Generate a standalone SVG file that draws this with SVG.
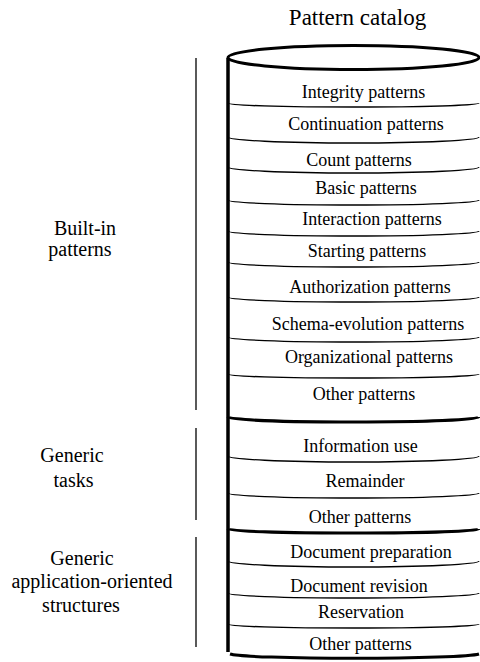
<svg xmlns="http://www.w3.org/2000/svg" width="480" height="662" viewBox="0 0 480 662">
<style>
text{font-family:"Liberation Serif","Times New Roman",serif;fill:#000}
.item{font-size:18px;text-anchor:middle}
.lab{font-size:20px;text-anchor:middle}
.title{font-size:23px;text-anchor:middle}
.thin{fill:none;stroke:#000;stroke-width:1.3}
.thick{fill:none;stroke:#000;stroke-width:3}
.edge{fill:none;stroke:#000;stroke-width:3.5}
.br{fill:none;stroke:#000;stroke-width:1.3}
</style>
<rect width="480" height="662" fill="#fff"/>
<g id="title"><text class="title" x="357.5" y="25">Pattern catalog</text></g>
<g id="catalog">
<ellipse class="thick" cx="353.5" cy="57.5" rx="125.5" ry="12"/>
<path class="edge" d="M228,58 L228,652"/>
<path class="thin" d="M228,103 A125.5,4 0 0 0 479,103"/>
<path class="thin" d="M228,137 A125.5,6 0 0 0 479,137"/>
<path class="thin" d="M228,167 A125.5,6 0 0 0 479,167"/>
<path class="thin" d="M228,200 A125.5,5 0 0 0 479,200"/>
<path class="thin" d="M228,231 A125.5,5 0 0 0 479,231"/>
<path class="thin" d="M228,262 A125.5,5 0 0 0 479,262"/>
<path class="thin" d="M228,297 A125.5,5 0 0 0 479,297"/>
<path class="thin" d="M228,337 A125.5,5 0 0 0 479,337"/>
<path class="thin" d="M228,374 A125.5,4 0 0 0 479,374"/>
<path class="thick" d="M228,417 A125.5,5 0 0 0 479,417"/>
<path class="thin" d="M228,456 A125.5,6 0 0 0 479,456"/>
<path class="thin" d="M228,493 A125.5,5 0 0 0 479,493"/>
<path class="thick" d="M228,529 A125.5,4 0 0 0 479,529"/>
<path class="thin" d="M228,561 A125.5,6 0 0 0 479,561"/>
<path class="thin" d="M228,593 A125.5,5 0 0 0 479,593"/>
<path class="thin" d="M228,624 A125.5,4 0 0 0 479,624"/>
<path class="thick" d="M230,654 A125.5,5 0 0 0 479,654"/>
</g>
<g id="layer-integrity"><text class="item" x="363.5" y="98">Integrity patterns</text></g>
<g id="layer-continuation"><text class="item" x="366" y="130">Continuation patterns</text></g>
<g id="layer-count"><text class="item" x="359" y="166">Count patterns</text></g>
<g id="layer-basic"><text class="item" x="366" y="194">Basic patterns</text></g>
<g id="layer-interaction"><text class="item" x="372" y="225">Interaction patterns</text></g>
<g id="layer-starting"><text class="item" x="367" y="257">Starting patterns</text></g>
<g id="layer-authorization"><text class="item" x="370" y="293">Authorization patterns</text></g>
<g id="layer-schema"><text class="item" x="368" y="330">Schema-evolution patterns</text></g>
<g id="layer-organizational"><text class="item" x="369" y="363">Organizational patterns</text></g>
<g id="layer-other1"><text class="item" x="364" y="400">Other patterns</text></g>
<g id="layer-information"><text class="item" x="360.5" y="452">Information use</text></g>
<g id="layer-remainder"><text class="item" x="365" y="487">Remainder</text></g>
<g id="layer-other2"><text class="item" x="360" y="523">Other patterns</text></g>
<g id="layer-docprep"><text class="item" x="371" y="558">Document preparation</text></g>
<g id="layer-docrev"><text class="item" x="359" y="592">Document revision</text></g>
<g id="layer-reservation"><text class="item" x="361" y="618">Reservation</text></g>
<g id="layer-other3"><text class="item" x="360.5" y="650">Other patterns</text></g>
<g id="group-builtin">
<text class="lab" x="85" y="235">Built-in</text>
<text class="lab" x="80" y="256">patterns</text>
</g>
<g id="group-tasks">
<text class="lab" x="72" y="462">Generic</text>
<text class="lab" x="73.5" y="487">tasks</text>
</g>
<g id="group-structures">
<text class="lab" x="82" y="565">Generic</text>
<text class="lab" x="92" y="588">application-oriented</text>
<text class="lab" x="81" y="612">structures</text>
</g>
<g id="connectors">
<path class="br" d="M196,58 L196,410"/>
<path class="br" d="M196,428 L196,520"/>
<path class="br" d="M196,537 L196,647"/>
</g>
</svg>
